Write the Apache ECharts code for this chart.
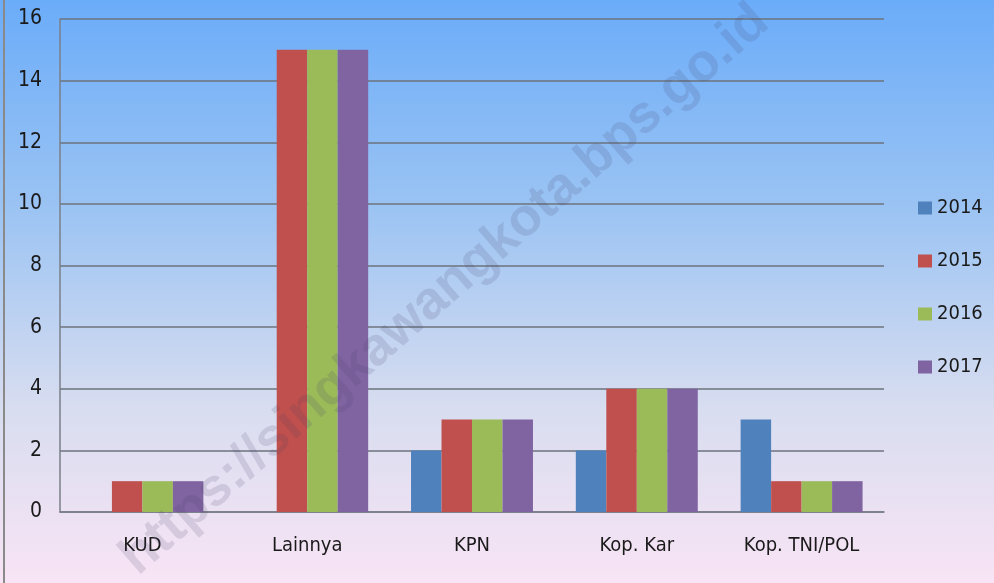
<!DOCTYPE html>
<html>
<head>
<meta charset="utf-8">
<script src="https://cdn.jsdelivr.net/npm/echarts@6/dist/echarts.min.js"></script>
<style>
  html, body { margin: 0; padding: 0; }
  #chart { width: 994px; height: 583px; }
</style>
</head>
<body>
<div id="chart"></div>
<script>
var categories = ['KUD', 'Lainnya', 'KPN', 'Kop. Kar', 'Kop. TNI/POL'];
var years = ['2014', '2015', '2016', '2017'];
var v2014 = [0, 0, 2, 2, 3];
var v2015 = [1, 15, 3, 4, 1];
var v2016 = [1, 15, 3, 4, 1];
var v2017 = [1, 15, 3, 4, 1];
var colors = ['#4F81BD', '#C0504D', '#9BBB59', '#8064A2'];

var font = '"DejaVu Sans Condensed", "Liberation Sans Narrow", sans-serif';
var chart = echarts.init(document.getElementById('chart'));

var values = [v2014, v2015, v2016, v2017];
var series = [];
for (var i = 0; i < years.length; i++) {
  series.push({
    name: years[i],
    type: 'bar',
    data: values[i],
    barGap: '0%',
    barCategoryGap: '26%',
    itemStyle: { color: colors[i] }
  });
}

var option = {
  animation: false,
  backgroundColor: {
    type: 'linear', x: 0, y: 0, x2: 0, y2: 1,
    colorStops: [
      { offset: 0, color: '#6BACF9' },
      { offset: 0.35, color: '#9AC3F3' },
      { offset: 0.7, color: '#D8DDF0' },
      { offset: 1, color: '#F8E4F5' }
    ]
  },
  color: colors,
  grid: { left: 60, right: 110, top: 19, bottom: 71 },
  legend: {
    orient: 'vertical',
    left: 913,
    top: 193,
    itemWidth: 14,
    itemHeight: 13,
    itemGap: 33,
    icon: 'rect',
    textStyle: { fontFamily: font, fontSize: 20, color: '#1a1a1a' },
    data: years
  },
  xAxis: {
    type: 'category',
    data: categories,
    axisLine: { lineStyle: { color: '#7a7f88', width: 1.5 } },
    axisTick: { show: false },
    axisLabel: { fontFamily: font, fontSize: 20, color: '#1a1a1a', margin: 24 }
  },
  yAxis: {
    type: 'value',
    min: 0,
    max: 16,
    interval: 2,
    axisLine: { show: true, lineStyle: { color: '#7a7f88', width: 1.5 } },
    axisTick: { show: false },
    splitLine: { lineStyle: { color: '#6d737c', width: 1.5 } },
    axisLabel: { fontFamily: font, fontSize: 21, color: '#1a1a1a', margin: 18 }
  },
  graphic: [
    {
      type: 'rect',
      shape: { x: 4, y: -2, width: 1000, height: 590 },
      style: { fill: 'none', stroke: '#8a8a8a', lineWidth: 2 },
      silent: true
    },
    {
      type: 'text',
      x: 445,
      y: 290,
      rotation: 41 * Math.PI / 180,
      z: 100,
      silent: true,
      style: {
        text: 'https://singkawangkota.bps.go.id',
        font: 'bold 53px "Liberation Sans", sans-serif',
        fill: 'rgba(70, 60, 100, 0.15)',
        align: 'center',
        verticalAlign: 'middle'
      }
    }
  ],
  series: series
};

chart.setOption(option);
</script>
</body>
</html>
